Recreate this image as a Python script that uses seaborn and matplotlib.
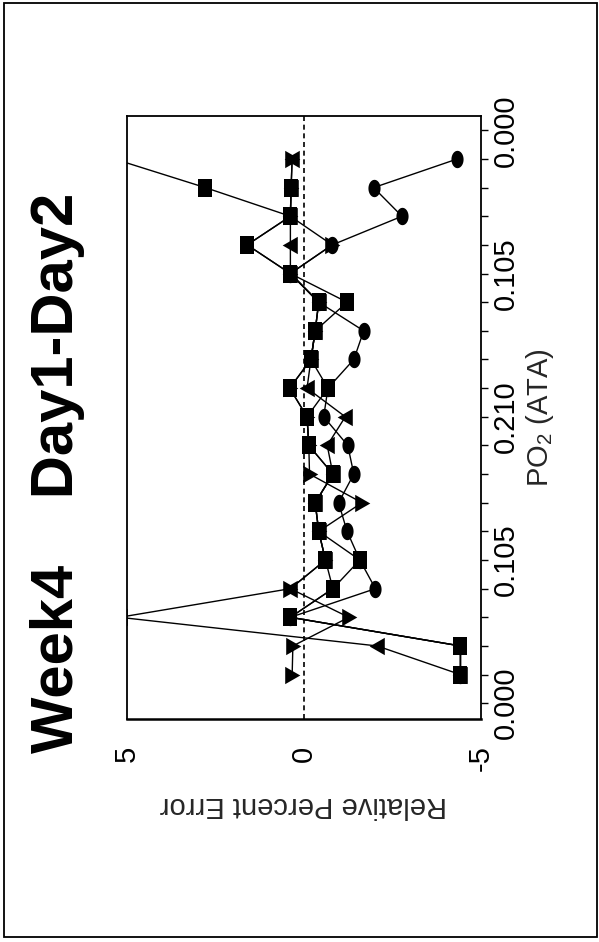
import numpy as np
import pandas as pd
import matplotlib
matplotlib.use("Agg")
import matplotlib.pyplot as plt
from matplotlib.path import Path
from matplotlib.patches import Rectangle
import seaborn as sns

# PO2 steps along the ramp (1..19); tick positions 0..20
step = list(range(1, 20))
tick_pos = list(range(0, 21))
tick_label_pos = [0, 5, 10, 15, 20]
tick_labels = ["0.000", "0.105", "0.210", "0.105", "0.000"]
err_ticks = list(range(-5, 6))
err_labels = {5: "5", 0: "0", -5: "-5"}

# Relative percent error for each sensor, step 1..19
tri_up = [-4.42, -2.07, 5.20, 0.38, -0.61, -0.42, -0.32, -0.82, -0.66, -1.17,
          -0.09, -0.20, -0.32, -0.42, 0.38, 0.38, 0.38, 0.36, 0.33]
tri_down = [0.33, 0.31, -1.27, 0.38, -0.61, -0.42, -1.64, -0.16, -0.14, -0.09,
            0.40, -0.20, -0.32, -0.42, 0.38, -0.80, 0.38, 0.36, 0.33]
circle = [-4.42, -4.42, 0.38, -2.02, -1.58, -1.22, -0.98, -1.41, -1.24, -0.56,
          -0.68, -1.41, -1.69, -0.42, 0.38, -0.80, -2.77, -1.97, -4.33]
square_a = [-4.42, -4.42, 0.38, -0.82, -1.58, -0.42, -0.32, -0.82, -0.14, -0.09,
            0.40, -0.20, -0.32, -1.22, 0.38, 1.60, 0.38, 2.78, 5.35]
square_b = [-4.42, -4.42, 0.38, -0.82, -0.61, -0.42, -0.32, -0.82, -0.14, -0.09,
            -0.68, -0.20, -0.32, -0.42, 0.38, 1.60, 0.38, 0.36, np.nan]

series = {"tri_up": tri_up, "tri_down": tri_down, "circle": circle,
          "square_a": square_a, "square_b": square_b}
order = list(series.keys())

df = pd.concat(
    [pd.DataFrame({"step": step, "error": vals, "sensor": name})
     for name, vals in series.items()],
    ignore_index=True,
)

# Markers are slightly taller than wide
t = np.linspace(0, 2 * np.pi, 40)
ellipse = Path(np.column_stack([0.35 * np.cos(t), 0.5 * np.sin(t)]))
rect = Path([(-0.38, -0.5), (0.38, -0.5), (0.38, 0.5), (-0.38, 0.5), (-0.38, -0.5)],
            [Path.MOVETO, Path.LINETO, Path.LINETO, Path.LINETO, Path.CLOSEPOLY])
left_tri = Path([(-0.45, 0.0), (0.42, 0.5), (0.42, -0.5), (-0.45, 0.0)],
                [Path.MOVETO, Path.LINETO, Path.LINETO, Path.CLOSEPOLY])
right_tri = Path([(0.45, 0.0), (-0.42, 0.5), (-0.42, -0.5), (0.45, 0.0)],
                 [Path.MOVETO, Path.LINETO, Path.LINETO, Path.CLOSEPOLY])
markers = {"tri_up": left_tri, "tri_down": right_tri, "circle": ellipse,
           "square_a": rect, "square_b": rect}

sns.set_style("white")
plt.rcParams["font.family"] = ["Liberation Sans", "DejaVu Sans"]
plt.rcParams["mathtext.fontset"] = "custom"
plt.rcParams["mathtext.rm"] = "Liberation Sans"

fig = plt.figure(figsize=(5.99, 9.42), dpi=100)
ax = fig.add_axes([126.7 / 599, 1 - 719 / 942, (481 - 126.7) / 599, (719 - 116) / 942])

ax.axvline(0, color="black", lw=1.2, ls=(0, (3, 2.2)), zorder=1)

sns.lineplot(
    data=df, x="error", y="step", hue="sensor", style="sensor",
    hue_order=order, style_order=order,
    palette={k: "black" for k in order}, markers=markers, dashes=False,
    sort=False, orient="y", estimator=None, legend=False,
    markersize=12.5, markeredgewidth=0, markeredgecolor="black",
    linewidth=1.0, ax=ax, zorder=3,
)

ax.set_xlim(5, -5)
ax.set_ylim(-0.55, 20.5)

# Error axis along the bottom
ax.set_xticks(err_ticks)
ax.set_xticklabels([err_labels.get(v, "") for v in err_ticks])
ax.tick_params(axis="x", direction="inout", length=10, width=1.2, pad=14,
               labelsize=21, labelrotation=90, colors="black")

# PO2 axis along the right side
ax.yaxis.tick_right()
ax.set_yticks(tick_pos)
ax.set_yticklabels([tick_labels[tick_label_pos.index(p)] if p in tick_label_pos else ""
                    for p in tick_pos])
ax.tick_params(axis="y", direction="out", length=5, width=1.0, pad=3,
               labelsize=21, labelrotation=90, colors="black")
for lab in ax.get_yticklabels():
    lab.set_verticalalignment("center")

ax.set_xlabel("Relative Percent Error", fontsize=21, rotation=180)
ax.xaxis.set_label_coords(0.5, -(805 - 719) / 603)
ax.xaxis.label.set_verticalalignment("center")
ax.yaxis.set_label_position("right")
ax.set_ylabel(r"PO$_\mathregular{2}$ (ATA)", fontsize=21, rotation=90)
ax.yaxis.set_label_coords((540 - 126.7) / 354.3, 0.5)
ax.yaxis.label.set_verticalalignment("center")
ax.yaxis.label.set_horizontalalignment("center")

for side in ["left", "right", "top"]:
    ax.spines[side].set_visible(True)
    ax.spines[side].set_color("black")
    ax.spines[side].set_linewidth(1.3)
ax.spines["bottom"].set_visible(True)
ax.spines["bottom"].set_color("black")
ax.spines["bottom"].set_linewidth(1.8)

fig.text(73 / 599, 1 - 753 / 942, "Week4    Day1-Day2", rotation=90,
         rotation_mode="anchor", ha="left", va="baseline",
         fontsize=43, fontweight="bold", color="black")

fig.add_artist(Rectangle((4 / 599, 5 / 942), 593 / 599, 934 / 942,
                         transform=fig.transFigure, fill=False,
                         edgecolor="black", linewidth=1.3))

fig.savefig("out.png", dpi=100)
